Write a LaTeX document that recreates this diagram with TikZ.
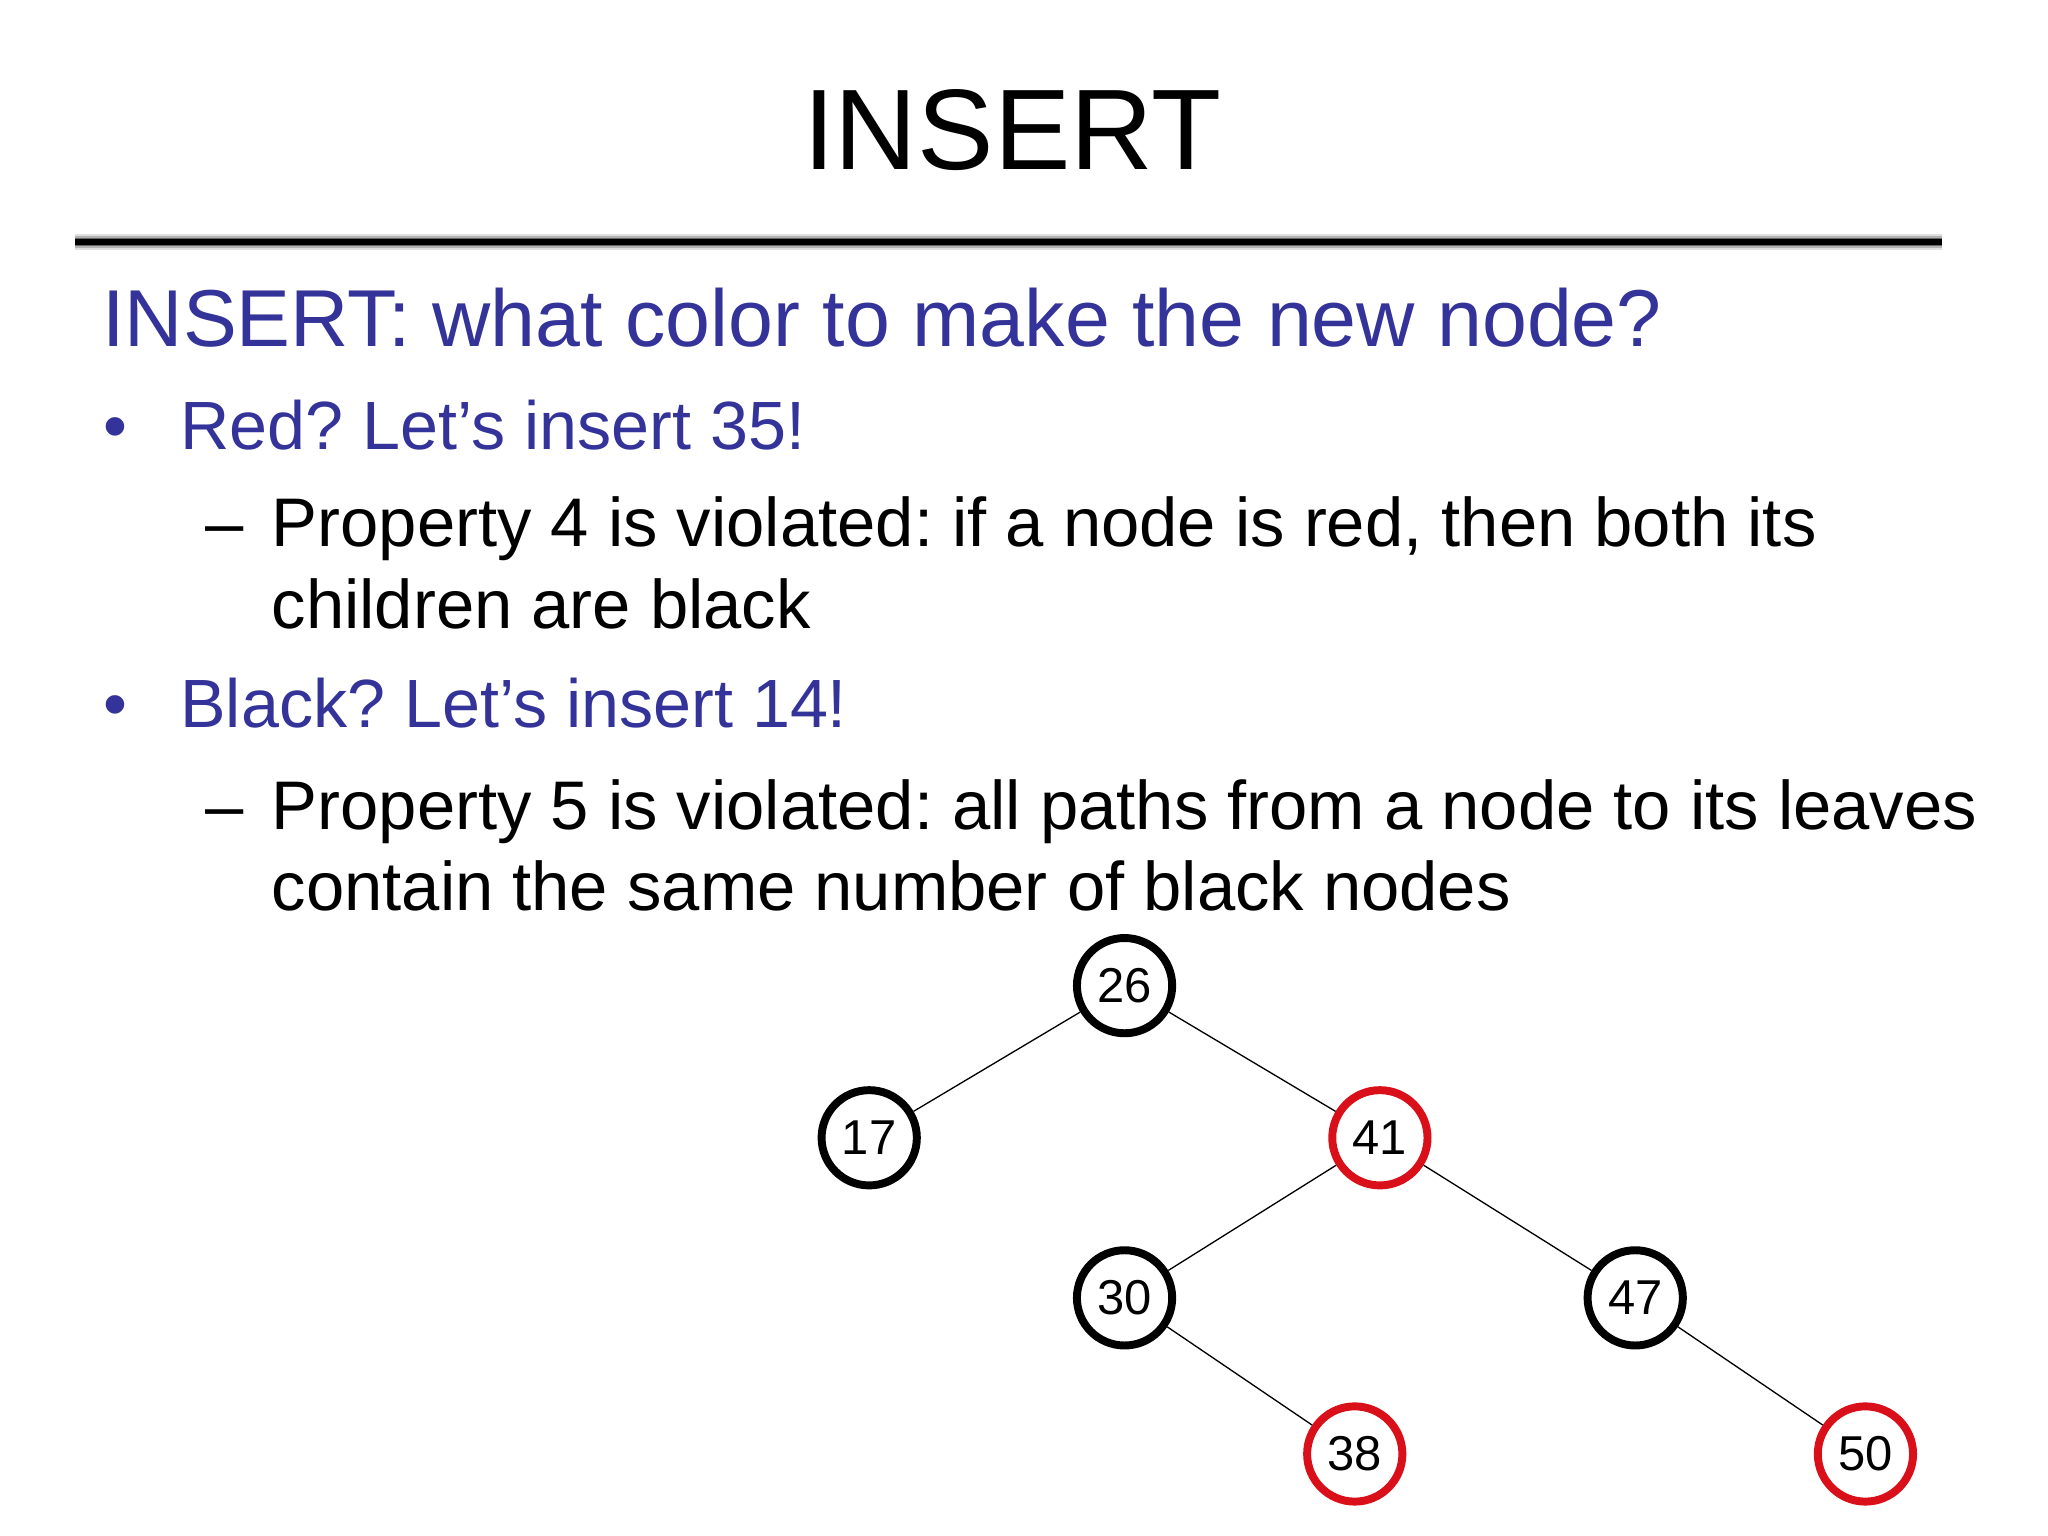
\documentclass[tikz,border=0pt]{standalone}
\usepackage{fontspec}
\setmainfont{Liberation Sans}
\frenchspacing
\definecolor{tblue}{HTML}{333399}
\definecolor{tred}{HTML}{D9101A}
\begin{document}
\begin{tikzpicture}[x=0.5pt,y=-0.5pt,
  txt/.style={anchor=base west,inner sep=0pt,font=\fontsize{26}{30}\selectfont},
  tn/.style={circle,draw=black,line width=3pt,minimum size=36pt,inner sep=0pt,font=\fontsize{18.5}{22}\selectfont},
  rn/.style={tn,draw=tred},
  edge/.style={line width=0.5pt}]
\useasboundingbox[fill=white] (0,0) rectangle (1548,1161);
\node[anchor=base,inner sep=0pt,font=\fontsize{43.3}{50}\selectfont] (title) at (765,128) {INSERT};
\foreach \w/\g in {12/12,9/30,6/60,4/100}{\draw[line width=\w*0.5pt,black!\g] (57,183) -- (1468,183);}
\node[txt,text=tblue,font=\fontsize{30.5}{34}\selectfont] (sub) at (77,262) {INSERT: what color to make the new node?};
\node[txt,text=tblue,font=\fontsize{25.8}{30}\selectfont] (b1) at (78,340) {•};
\node[txt,text=tblue,font=\fontsize{25.8}{30}\selectfont] (t1) at (136,340) {Red? Let’s insert 35!};
\node[txt] (d1) at (155,413) {–};
\node[txt] (t2) at (205,413) {Property 4 is violated: if a node is red, then both its};
\node[txt] (t3) at (205,475) {children are black};
\node[txt,text=tblue,font=\fontsize{25.8}{30}\selectfont] (b2) at (78,550) {•};
\node[txt,text=tblue,font=\fontsize{25.8}{30}\selectfont] (t4) at (136,550) {Black? Let’s insert 14!};
\node[txt] (d2) at (155,627) {–};
\node[txt] (t5) at (205,627) {Property 5 is violated: all paths from a node to its leaves};
\node[txt] (t6) at (205,688) {contain the same number of black nodes};
\node[tn] (n26) at (850,745) {26};
\node[tn] (n17) at (657,860) {17};
\node[rn] (n41) at (1043,860) {41};
\node[tn] (n30) at (850,981) {30};
\node[tn] (n47) at (1236,981) {47};
\node[rn] (n38) at (1024,1099) {38};
\node[rn] (n50) at (1410,1099) {50};
\draw[edge] (n26) -- (n17);
\draw[edge] (n26) -- (n41);
\draw[edge] (n41) -- (n30);
\draw[edge] (n41) -- (n47);
\draw[edge] (n30) -- (n38);
\draw[edge] (n47) -- (n50);
\end{tikzpicture}
\end{document}
